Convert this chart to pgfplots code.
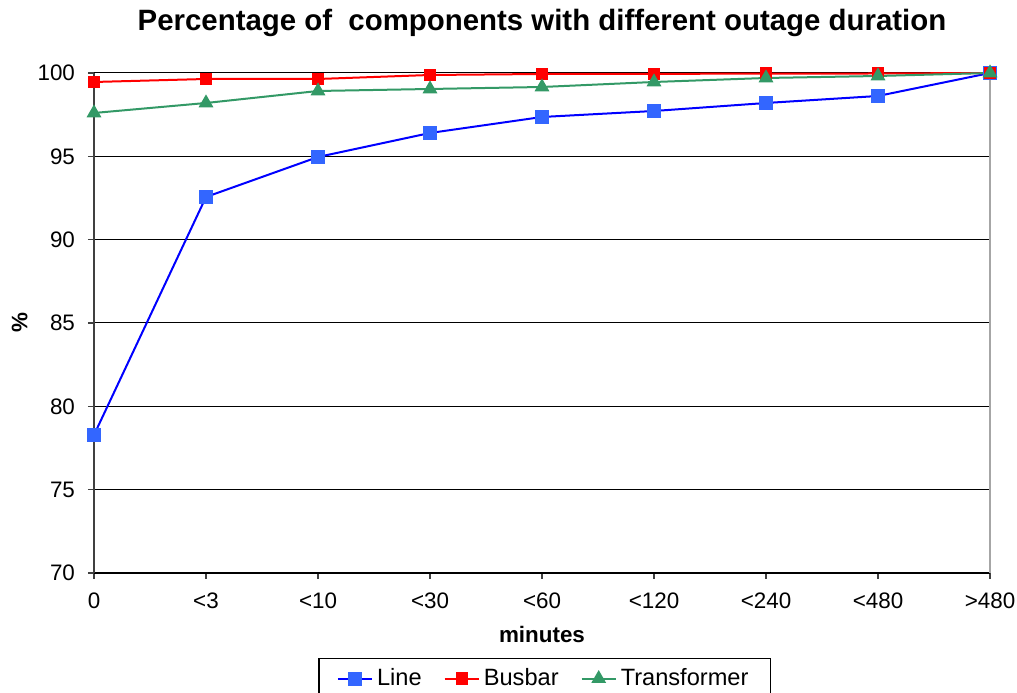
\documentclass[border=0pt]{standalone}
\usepackage{pgfplots}
\pgfplotsset{compat=1.18}
\usepackage{fontspec}
\setmainfont{Liberation Sans}

\definecolor{lineblue}{RGB}{0,0,255}
\definecolor{markblue}{RGB}{51,102,255}
\definecolor{busred}{RGB}{255,0,0}
\definecolor{trgreen}{RGB}{51,153,102}

\begin{document}
\begin{tikzpicture}
\begin{axis}[
    scale only axis,
    width=448pt, height=250pt,
    xmin=0, xmax=8,
    ymin=70, ymax=100,
    xtick={0,1,2,3,4,5,6,7,8},
    xticklabels={0,<3,<10,<30,<60,<120,<240,<480,>480},
    ytick={70,75,80,85,90,95,100},
    axis x line=bottom,
    axis y line=left,
    x axis line style={-, black, line width=0.9pt},
    y axis line style={-, black!75, line width=0.9pt},
    tick align=outside,
    major tick length=3pt,
    tick style={black!75, line width=0.6pt},
    ymajorgrids=true,
    grid style={black, line width=0.5pt},
    clip=false,
    font=\fontsize{11.2pt}{13pt}\selectfont,
    /pgf/number format/assume math mode=true,
    xticklabel style={yshift=-3.5pt},
    yticklabel style={xshift=-3pt},
    title={\bfseries\fontsize{14.7pt}{17pt}\selectfont Percentage of \ components with different outage duration},
    title style={at={(0.5,1)}, anchor=base, yshift=15pt},
    xlabel={\bfseries minutes},
    ylabel={\bfseries \%},
    xlabel style={at={(0.5,0)}, anchor=center, yshift=-31pt},
    ylabel style={at={(-0.083,0.5)}, anchor=center},
    legend columns=3,
    legend style={at={(0.503,-0.17)}, anchor=north, draw=black, line width=0.6pt,
        font=\fontsize{11.8pt}{14pt}\selectfont, inner xsep=9pt, inner ysep=3pt,
        /tikz/every even column/.append style={column sep=9pt}},
    legend image code/.code={
        \draw[#1, mark=none] (0cm,0cm) -- (0.6cm,0cm);
        \draw[#1, only marks] plot coordinates {(0.3cm,0cm)};
    },
]
\addplot[color=lineblue, line width=1pt, mark=square*, mark size=3pt,
    mark options={fill=markblue, draw=markblue}]
    coordinates {(0,78.28)(1,92.56)(2,94.96)(3,96.4)(4,97.36)(5,97.72)(6,98.2)(7,98.62)(8,100)};
\addlegendentry{Line}
\addplot[color=busred, line width=1pt, mark=square*, mark size=2.6pt,
    mark options={fill=busred, draw=busred}]
    coordinates {(0,99.46)(1,99.64)(2,99.64)(3,99.88)(4,99.94)(5,99.95)(6,99.96)(7,99.97)(8,100)};
\addlegendentry{Busbar}
\addplot[color=trgreen, line width=1pt, mark=triangle*, mark size=3.3pt,
    mark options={fill=trgreen, draw=trgreen}]
    coordinates {(0,97.6)(1,98.2)(2,98.92)(3,99.04)(4,99.16)(5,99.46)(6,99.7)(7,99.82)(8,100)};
\addlegendentry{Transformer}
\draw[gray!70, line width=0.8pt] (rel axis cs:1,0) -- (rel axis cs:1,1);
\coordinate (sw) at (rel axis cs:0,0);
\coordinate (ne) at (rel axis cs:1,1);
\end{axis}
\pgfresetboundingbox
\path[use as bounding box] ([xshift=-47pt,yshift=-60pt]sw) rectangle ([xshift=13.5pt,yshift=36.5pt]ne);
\end{tikzpicture}
\end{document}
